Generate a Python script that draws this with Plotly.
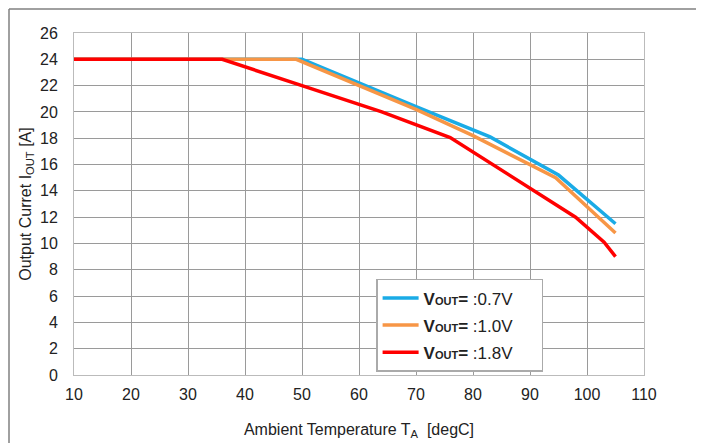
import plotly.graph_objects as go

# Data
temp_07 = [10, 50, 70, 83, 95, 105]
iout_07 = [24, 24, 20.4, 18.1, 15.2, 11.5]

temp_10 = [10, 49, 70, 80, 94.5, 105]
iout_10 = [24, 24, 20.2, 18.2, 15.0, 10.8]

temp_18 = [10, 36, 50, 64, 76, 90.5, 98, 103, 105]
iout_18 = [24, 24, 22.0, 20.0, 18.05, 14.05, 12.0, 10.1, 9.0]

labels = ["0.7V", "1.0V", "1.8V"]
colors = ["#1aabe6", "#f79646", "#ff0000"]

x_ticks = list(range(10, 111, 10))
y_ticks = list(range(0, 27, 2))

def leg(v):
    return ("<b>V<span style='font-size:11px'>OUT</span>=</b> :" + v
            + "&nbsp;" * 5)

fig = go.Figure()
for i, (xs, ys) in enumerate([(temp_07, iout_07), (temp_10, iout_10), (temp_18, iout_18)]):
    fig.add_trace(go.Scatter(
        x=xs, y=ys, mode="lines", name=leg(labels[i]),
        line=dict(color=colors[i], width=3.5),
        legendgroup=str(i),
    ))

font_family = "Liberation Sans, Arial, sans-serif"

# page body has an 8px margin, so the figure is 8px smaller than the window
W, H = 696, 435
L, R, T, B = 66, 60, 25, 68
pw, ph = W - L - R, H - T - B

fig.update_layout(
    width=W, height=H,
    margin=dict(l=L, r=R, t=T, b=B),
    paper_bgcolor="white", plot_bgcolor="white",
    font=dict(family=font_family, size=16, color="#222"),
    showlegend=True,
    legend=dict(
        x=0.53, y=0.281, xanchor="left", yanchor="top",
        bgcolor="white", bordercolor="#aaaaaa", borderwidth=1.5,
        font=dict(size=17, color="#222"),
        tracegroupgap=2,
        itemwidth=36,
    ),
    xaxis=dict(
        range=[10, 110], tickvals=x_ticks, showgrid=True,
        gridcolor="#9a9a9a", gridwidth=1, zeroline=False,
        showline=True, linecolor="#bbbbbb", mirror=True,
        ticks="", ticklabelstandoff=5, automargin=False,
        title=dict(text="Ambient Temperature T<sub>A</sub>  [degC]",
                   font=dict(size=16), standoff=21),
        tickfont=dict(size=16),
    ),
    yaxis=dict(
        range=[0, 26], tickvals=y_ticks, showgrid=True,
        gridcolor="#9a9a9a", gridwidth=1, zeroline=False,
        showline=True, linecolor="#bbbbbb", mirror=True,
        ticks="", ticklabelstandoff=12,
        title=dict(text="Output Curret I<sub>OUT</sub> [A]",
                   font=dict(size=16), standoff=4),
        tickfont=dict(size=16),
    ),
    shapes=[
        dict(type="line", xref="paper", yref="paper",
             x0=-(L - 1) / pw, x1=(pw + R) / pw, y0=1 + (T - 1) / ph, y1=1 + (T - 1) / ph,
             line=dict(color="#808080", width=1.5)),
        dict(type="line", xref="paper", yref="paper",
             x0=-(L - 1) / pw, x1=-(L - 1) / pw, y0=1 + (T - 1) / ph, y1=-B / ph,
             line=dict(color="#808080", width=1.5)),
    ],
)

fig.write_html("out.html")
